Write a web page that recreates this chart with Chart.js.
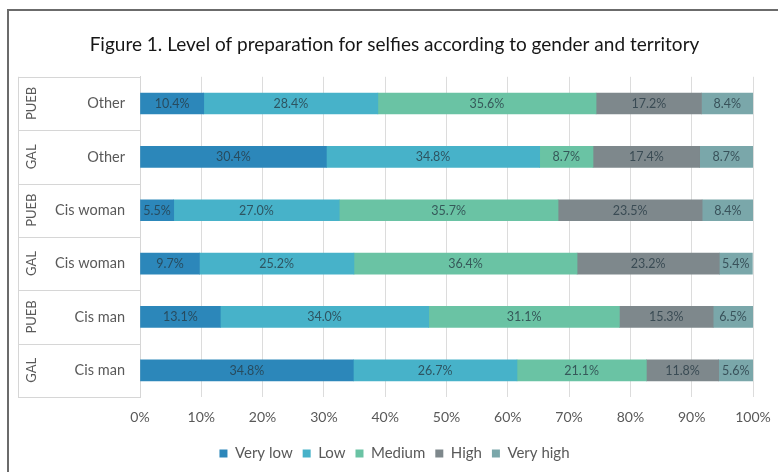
<!DOCTYPE html>
<html>
<head>
<meta charset="utf-8">
<script src="https://cdn.jsdelivr.net/npm/chart.js@4/dist/chart.umd.min.js"></script>
<style>
  html, body { margin: 0; padding: 0; background: #ffffff; }
  #wrap { position: relative; width: 778px; height: 472px; overflow: hidden; }
  #frame { position: absolute; left: 7px; top: 9px; width: 820px; height: 520px;
           border-left: 2px solid #6b6b6b; border-top: 2px solid #6b6b6b; box-sizing: border-box; }
  #c { position: absolute; left: 0; top: 0; }
</style>
</head>
<body>
<div id="wrap">
  <div id="frame"></div>
  <canvas id="c" width="778" height="472"></canvas>
</div>
<script>
// Rows, top to bottom: gender within territory
const categories  = ['Other', 'Other', 'Cis woman', 'Cis woman', 'Cis man', 'Cis man'];
const territories = ['PUEB', 'GAL', 'PUEB', 'GAL', 'PUEB', 'GAL'];

// Share of respondents (%) for each preparation level
const levels   = ['Very low', 'Low', 'Medium', 'High', 'Very high'];
const veryLow  = [10.4, 30.4, 5.5, 9.7, 13.1, 34.8];
const low      = [28.4, 34.8, 27.0, 25.2, 34.0, 26.7];
const medium   = [35.6, 8.7, 35.7, 36.4, 31.1, 21.1];
const high     = [17.2, 17.4, 23.5, 23.2, 15.3, 11.8];
const veryHigh = [8.4, 8.7, 8.4, 5.4, 6.5, 5.6];

// Axis ticks (%)
const xTicks = [0, 10, 20, 30, 40, 50, 60, 70, 80, 90, 100];

const seriesValues = [veryLow, low, medium, high, veryHigh];
const seriesColors = ['#2c87ba', '#47b2c9', '#6ac3a4', '#7e888c', '#7aa7aa'];

const LABEL_FONT = 'Lato, "Open Sans", sans-serif';
const AXIS_GRAY = '#595959';

// Percent value written in the middle of each segment
const segmentLabels = {
  id: 'segmentLabels',
  afterDatasetsDraw(chart) {
    const ctx = chart.ctx;
    ctx.save();
    ctx.font = '12.5px ' + LABEL_FONT;
    ctx.fillStyle = 'rgba(38,58,68,0.78)';
    ctx.textAlign = 'center';
    ctx.textBaseline = 'middle';
    chart.data.datasets.forEach((ds, di) => {
      const meta = chart.getDatasetMeta(di);
      meta.data.forEach((bar, i) => {
        const v = ds.data[i];
        ctx.fillText(v.toFixed(1) + '%', (bar.x + bar.base) / 2, bar.y + 0.5);
      });
    });
    ctx.restore();
  }
};

// Light frame lines around the two-level category labels
const categoryFrame = {
  id: 'categoryFrame',
  beforeDatasetsDraw(chart) {
    const ctx = chart.ctx;
    const y = chart.scales.y;
    const left = chart.scales.yGroup.left;
    const right = chart.chartArea.left;
    ctx.save();
    ctx.strokeStyle = '#d6d6d6';
    ctx.lineWidth = 1;
    ctx.beginPath();
    for (let i = 0; i <= categories.length; i++) {
      const py = Math.round(y.getPixelForValue(i - 0.5)) + 0.5;
      ctx.moveTo(left, py);
      ctx.lineTo(right, py);
    }
    const lx = Math.round(left) + 0.5;
    ctx.moveTo(lx, y.getPixelForValue(-0.5));
    ctx.lineTo(lx, y.getPixelForValue(categories.length - 0.5));
    ctx.stroke();
    ctx.restore();
  }
};

new Chart(document.getElementById('c'), {
  type: 'bar',
  data: {
    labels: categories,
    datasets: levels.map((name, k) => ({
      label: name,
      data: seriesValues[k],
      backgroundColor: seriesColors[k],
      borderWidth: 0,
      barThickness: 21
    }))
  },
  options: {
    indexAxis: 'y',
    responsive: false,
    animation: false,
    layout: { padding: { left: 18, right: 7, top: 0, bottom: 1 } },
    scales: {
      x: {
        stacked: true,
        min: 0,
        max: 100,
        afterBuildTicks: (scale) => { scale.ticks = xTicks.map(v => ({ value: v })); },
        afterFit: (scale) => {
          scale.height = 39;
          // the side gutters already leave room for the end labels
          scale.paddingLeft = 0;
          scale.paddingRight = 0;
        },
        ticks: {
          callback: (v) => v + '%',
          color: AXIS_GRAY,
          font: { family: LABEL_FONT, size: 14 },
          padding: 12
        },
        grid: { color: '#dcdcdc', drawTicks: false },
        border: { display: false }
      },
      y: {
        stacked: true,
        weight: 0,
        afterFit: (scale) => { scale.width = 96; },
        ticks: {
          color: AXIS_GRAY,
          font: { family: LABEL_FONT, size: 14.5 },
          padding: 15
        },
        grid: { display: false, drawTicks: false },
        border: { display: true, color: '#d6d6d6' }
      },
      yGroup: {
        type: 'category',
        labels: territories,
        axis: 'y',
        position: 'left',
        offset: true,
        weight: 1,
        afterFit: (scale) => { scale.width = 26; },
        ticks: {
          color: AXIS_GRAY,
          font: { family: LABEL_FONT, size: 13 },
          minRotation: 90,
          maxRotation: 90,
          crossAlign: 'center',
          padding: -4
        },
        grid: { display: false, drawTicks: false },
        border: { display: false }
      },
      // empty right-hand gutter between the 100% line and the frame edge
      gutter: {
        type: 'category',
        labels: territories,
        axis: 'y',
        position: 'right',
        offset: true,
        afterFit: (scale) => { scale.width = 18; },
        ticks: { display: false },
        grid: { display: false, drawTicks: false },
        border: { display: false }
      }
    },
    plugins: {
      title: {
        display: true,
        text: 'Figure 1. Level of preparation for selfies according to gender and territory',
        color: '#161616',
        font: { family: LABEL_FONT, size: 19, weight: 'normal' },
        padding: { top: 33, bottom: 21 }
      },
      legend: {
        position: 'bottom',
        labels: {
          boxWidth: 8,
          boxHeight: 8,
          color: AXIS_GRAY,
          font: { family: LABEL_FONT, size: 15 },
          padding: 10
        }
      },
      tooltip: { enabled: false }
    }
  },
  plugins: [segmentLabels, categoryFrame]
});
</script>
</body>
</html>
